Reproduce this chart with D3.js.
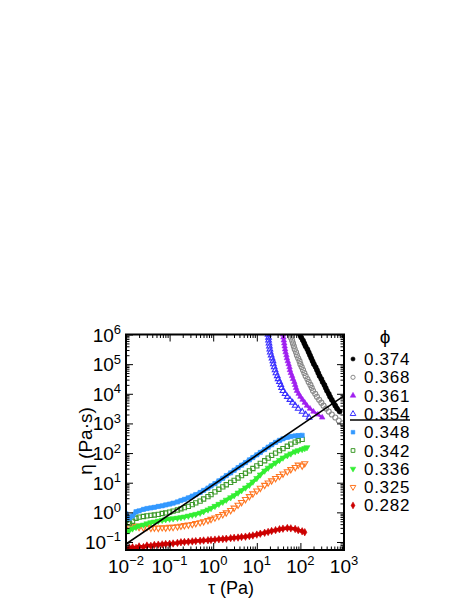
<!DOCTYPE html>
<meta charset="utf-8">
<style>
  html, body { margin: 0; padding: 0; background: #fff; }
  svg { display: block; font-family: "Liberation Sans", Arial, sans-serif; }
</style>
<body>
</body>
<script src="https://cdn.jsdelivr.net/npm/d3@7"></script>
<script>

  // values are log10: tau in Pa, eta in Pa·s
  var logTauLow = [-2.00,-1.92,-1.85,-1.77,-1.70,-1.60,-1.52,-1.43,-1.35,-1.26,-1.17,-1.09,-1.00,-0.92,-0.82,-0.74,-0.66,-0.57,-0.48,-0.40,-0.30,-0.22,-0.12,-0.05,0.04,0.13,0.22,0.30,0.40,0.48,0.57,0.65,0.74,0.83,0.91,1.00,1.08,1.18,1.26,1.34,1.43,1.52,1.60,1.70,1.78,1.88,1.95,2.04,2.10,2.15];

  var logEta348 = [-0.05,-0.2,-0.12,0.02,0.05,0.1,0.13,0.15,0.17,0.2,0.22,0.25,0.28,0.31,0.35,0.4,0.44,0.49,0.55,0.6,0.67,0.74,0.82,0.89,0.97,1.06,1.15,1.24,1.33,1.42,1.51,1.59,1.68,1.77,1.85,1.94,2.02,2.12,2.2,2.28,2.36,2.43,2.48,2.53,2.56,2.58,2.59,2.6];
  var logEta342 = [-0.26,-0.36,-0.3,-0.2,-0.16,-0.14,-0.12,-0.1,-0.09,-0.07,-0.04,-0.02,0.01,0.04,0.08,0.12,0.16,0.2,0.26,0.32,0.38,0.45,0.53,0.6,0.69,0.78,0.86,0.93,1.01,1.08,1.16,1.24,1.32,1.4,1.48,1.57,1.65,1.74,1.83,1.92,2.0,2.08,2.15,2.23,2.3,2.37,2.42,2.46];
  var logEta336 = [-0.67,-0.6,-0.55,-0.5,-0.45,-0.42,-0.38,-0.34,-0.32,-0.29,-0.26,-0.24,-0.22,-0.21,-0.19,-0.17,-0.15,-0.12,-0.09,-0.06,-0.02,0.03,0.09,0.14,0.21,0.28,0.35,0.42,0.5,0.57,0.66,0.74,0.83,0.92,1.03,1.15,1.27,1.4,1.5,1.58,1.67,1.76,1.84,1.92,1.98,2.05,2.09,2.13,2.16,2.19];
  var logEta325 = [-0.6,-0.52,-0.48,-0.45,-0.5,-0.52,-0.5,-0.53,-0.52,-0.53,-0.51,-0.52,-0.5,-0.5,-0.48,-0.46,-0.44,-0.42,-0.4,-0.37,-0.34,-0.31,-0.27,-0.23,-0.18,-0.13,-0.07,-0.01,0.07,0.15,0.25,0.34,0.44,0.54,0.63,0.73,0.82,0.92,1.0,1.07,1.15,1.22,1.3,1.38,1.45,1.52,1.6,1.57,1.65];
  var logEta282 = [-1.22,-1.2,-1.18,-1.2,-1.15,-1.17,-1.12,-1.13,-1.1,-1.09,-1.08,-1.07,-1.06,-1.05,-1.03,-1.01,-1.0,-0.99,-0.98,-0.97,-0.96,-0.95,-0.94,-0.93,-0.92,-0.91,-0.9,-0.89,-0.87,-0.86,-0.85,-0.83,-0.82,-0.8,-0.78,-0.75,-0.72,-0.69,-0.66,-0.63,-0.6,-0.57,-0.55,-0.53,-0.54,-0.56,-0.6,-0.64,-0.67];

  var logEtaHigh = [6.1,6.0,5.9,5.8,5.7,5.6,5.5,5.4,5.3,5.2,5.1,5.0,4.9,4.8,4.7,4.6,4.5,4.4,4.3,4.2,4.1,4.0,3.9,3.8,3.7,3.6,3.5,3.4,3.3,3.2,3.1,3.0];
  var logTau374 = [1.96,1.99,2.02,2.06,2.09,2.12,2.16,2.19,2.22,2.25,2.28,2.31,2.35,2.38,2.41,2.44,2.48,2.51,2.55,2.58,2.61,2.65,2.68,2.72,2.76,2.80,2.84,2.90];
  var logTau368 = [1.74,1.76,1.78,1.81,1.83,1.85,1.87,1.90,1.92,1.95,1.98,2.0,2.03,2.06,2.09,2.12,2.16,2.19,2.23,2.26,2.29,2.34,2.38,2.43,2.48,2.53,2.59,2.65,2.72,2.80,2.88,2.97];
  var logTau361 = [1.59,1.60,1.61,1.62,1.63,1.64,1.65,1.66,1.68,1.69,1.71,1.73,1.75,1.76,1.78,1.81,1.83,1.86,1.88,1.90,1.92,1.96,2.00,2.05,2.10,2.15,2.22,2.30,2.40,2.50];
  var logTau354 = [1.25,1.26,1.27,1.27,1.28,1.29,1.30,1.31,1.33,1.35,1.37,1.38,1.40,1.42,1.44,1.47,1.49,1.52,1.55,1.57,1.60,1.65,1.70,1.76,1.82,1.88,1.95,2.04,2.12,2.20];

  var phiLabels = ["0.374","0.368","0.361","0.354","0.348","0.342","0.336","0.325","0.282"];

  // guide line eta ~ tau
  var guideTau = [1e-2, 1e3];
  var guideEta = [0.085, 8500];

  function pairs(lx, ly) {
      var out = [];
      for (var i = 0; i < Math.min(lx.length, ly.length); i++)
	  out.push([Math.pow(10, lx[i]), Math.pow(10, ly[i])]);
      return out;
  }

  var series = [
      {label: phiLabels[0], pts: pairs(logTau374, logEtaHigh), sym: d3.symbolCircle, color: "#000000", open: false, rot: 0, size: 20, band: 4},
      {label: phiLabels[1], pts: pairs(logTau368, logEtaHigh), sym: d3.symbolCircle, color: "#8a8a8a", open: true, rot: 0, size: 20, band: 0},
      {label: phiLabels[2], pts: pairs(logTau361, logEtaHigh), sym: d3.symbolTriangle, color: "#a020f0", open: false, rot: 0, size: 13, band: 2.5},
      {label: phiLabels[3], pts: pairs(logTau354, logEtaHigh), sym: d3.symbolTriangle, color: "#3a30ff", open: true, rot: 0, size: 14, band: 0},
      {label: phiLabels[4], pts: pairs(logTauLow, logEta348), sym: d3.symbolSquare, color: "#3399ff", open: false, rot: 0, size: 18, band: 4},
      {label: phiLabels[5], pts: pairs(logTauLow, logEta342), sym: d3.symbolSquare, color: "#3d9a2a", open: true, rot: 0, size: 18, band: 0},
      {label: phiLabels[6], pts: pairs(logTauLow, logEta336), sym: d3.symbolTriangle, color: "#33ee33", open: false, rot: 180, size: 16, band: 3.5},
      {label: phiLabels[7], pts: pairs(logTauLow, logEta325), sym: d3.symbolTriangle, color: "#ff7722", open: true, rot: 180, size: 16, band: 0},
      {label: phiLabels[8], pts: pairs(logTauLow, logEta282), sym: d3.symbolDiamond, color: "#cc0000", open: false, rot: 0, size: 16, band: 3.5}
  ];

  var width = 471, height = 609;
  var svg = d3.select("body").append("svg")
      .attr("width", width)
      .attr("height", height);

  var x = d3.scaleLog().domain([1e-2, 1e3]).range([126, 344]);
  var y = d3.scaleLog().domain([Math.pow(10, -1.27), 1e6]).range([550, 334.5]);

  svg.append("clipPath").attr("id", "plotclip")
      .append("rect")
      .attr("x", x.range()[0]).attr("y", y.range()[1])
      .attr("width", x.range()[1] - x.range()[0])
      .attr("height", y.range()[0] - y.range()[1]);

  var plot = svg.append("g").attr("clip-path", "url(#plotclip)");
  var line = d3.line().x(d => x(d[0])).y(d => y(d[1]));

  /* data markers; filled series get a band under them so the dense markers read as one */
  series.slice().reverse().forEach(function(s) {
      var g = plot.append("g");
      if (s.band > 0)
	  g.append("path")
	  .datum(s.pts)
	  .attr("d", line)
	  .attr("fill", "none")
	  .attr("stroke", s.color)
	  .attr("stroke-width", s.band)
	  .attr("stroke-linejoin", "round");
      var sym = d3.symbol().type(s.sym).size(s.size);
      g.selectAll("path.pt")
	  .data(s.pts)
	  .enter().append("path")
	  .attr("class", "pt")
	  .attr("d", sym)
	  .attr("transform", d => `translate(${x(d[0])},${y(d[1])}) rotate(${s.rot})`)
	  .attr("fill", s.open ? "none" : s.color)
	  .attr("stroke", s.color)
	  .attr("stroke-width", s.open ? 1.1 : 0.6);
  });

  /* guide line */
  plot.append("path")
      .datum(pairs(guideTau.map(Math.log10), guideEta.map(Math.log10)))
      .attr("d", line)
      .attr("stroke", "#000")
      .attr("stroke-width", 1.6)
      .attr("fill", "none");

  /* ticks, all four sides, pointing in */
  var majorX = d3.range(-2, 4).map(e => Math.pow(10, e));
  var majorY = d3.range(-1, 7).map(e => Math.pow(10, e));
  function minors(lo, hi, scale) {
      var out = [];
      for (var e = lo; e <= hi; e++)
	  for (var m = 2; m <= 9; m++) {
	      var v = m * Math.pow(10, e);
	      if (v >= scale.domain()[0] && v <= scale.domain()[1]) out.push(v);
	  }
      return out;
  }
  var minorX = minors(-2, 2, x), minorY = minors(-2, 5, y);

  function tickAxis(gen, scale, vals, len, tr) {
      var g = svg.append("g")
	  .attr("transform", tr)
	  .call(gen(scale).tickValues(vals).tickSizeInner(-len).tickSizeOuter(0).tickFormat(""));
      g.select(".domain").remove();
      g.selectAll("line").attr("stroke", "#000").attr("stroke-width", 1);
  }
  tickAxis(d3.axisBottom, x, majorX, 7, "translate(0,550)");
  tickAxis(d3.axisBottom, x, minorX, 3.5, "translate(0,550)");
  tickAxis(d3.axisTop, x, majorX, 7, "translate(0,334.5)");
  tickAxis(d3.axisTop, x, minorX, 3.5, "translate(0,334.5)");
  tickAxis(d3.axisLeft, y, majorY, 7, "translate(126,0)");
  tickAxis(d3.axisLeft, y, minorY, 3.5, "translate(126,0)");
  tickAxis(d3.axisRight, y, majorY, 7, "translate(344,0)");
  tickAxis(d3.axisRight, y, minorY, 3.5, "translate(344,0)");

  svg.append("rect")
      .attr("x", 126).attr("y", 334.5)
      .attr("width", 218).attr("height", 215.5)
      .attr("fill", "none")
      .attr("stroke", "#000")
      .attr("stroke-width", 2);

  /* tick labels 10^n */
  function expLabel(sel, e) {
      sel.append("tspan").text("10");
      sel.append("tspan")
	  .attr("font-size", 13)
	  .attr("dy", -7.5)
	  .text(e < 0 ? "\u2212" + (-e) : e);
  }
  majorX.forEach(function(v) {
      var e = Math.round(Math.log10(v));
      var t = svg.append("text")
	  .attr("x", x(v))
	  .attr("y", 572.5)
	  .attr("text-anchor", "middle")
	  .attr("font-size", 19);
      expLabel(t, e);
  });
  majorY.forEach(function(v) {
      var e = Math.round(Math.log10(v));
      var t = svg.append("text")
	  .attr("x", 121)
	  .attr("y", y(v) + 7)
	  .attr("text-anchor", "end")
	  .attr("font-size", 19);
      expLabel(t, e);
  });

  svg.append("text")
      .attr("x", 231).attr("y", 593.5)
      .attr("text-anchor", "middle")
      .attr("font-size", 18)
      .text("\u03c4 (Pa)");

  svg.append("text")
      .attr("transform", "translate(92,441) rotate(-90)")
      .attr("text-anchor", "middle")
      .attr("font-size", 19)
      .text("\u03b7 (Pa\u00b7s)");

  /* legend */
  svg.append("text")
      .attr("x", 385).attr("y", 343)
      .attr("text-anchor", "middle")
      .attr("font-size", 19)
      .text("\u03d5");

  var leg = svg.append("g").selectAll("g")
      .data(series)
      .enter().append("g")
      .attr("transform", (d, i) => `translate(353,${359 + i * 18.3})`);

  leg.append("path")
      .attr("d", d => d3.symbol().type(d.sym).size(14)())
      .attr("transform", d => `rotate(${d.rot})`)
      .attr("fill", d => d.open ? "none" : d.color)
      .attr("stroke", d => d.color)
      .attr("stroke-width", d => d.open ? 1 : 0.5);

  leg.append("text")
      .attr("x", 11)
      .attr("y", 6)
      .attr("font-size", 17)
      .attr("letter-spacing", 0.7)
      .text(d => d.label);

  svg.append("line")
      .attr("x1", 350).attr("x2", 410)
      .attr("y1", 420).attr("y2", 420)
      .attr("stroke", "#000")
      .attr("stroke-width", 1.3);

</script>
